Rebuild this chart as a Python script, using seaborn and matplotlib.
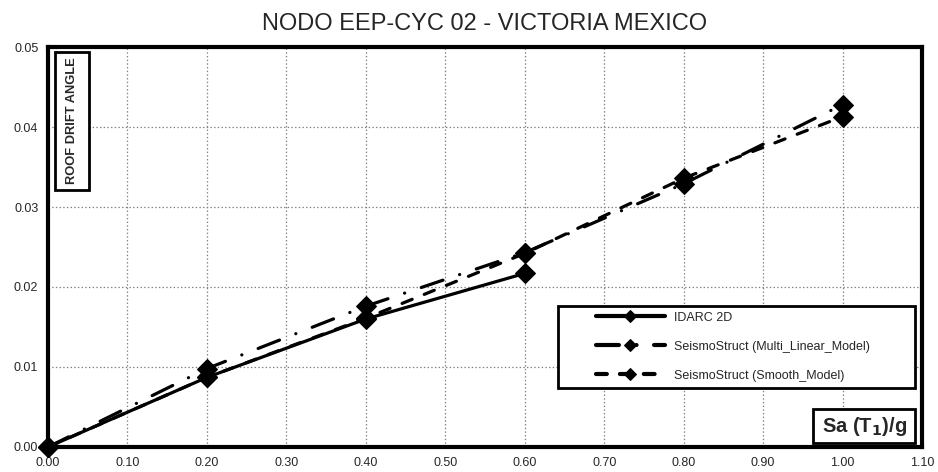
import matplotlib
matplotlib.use("Agg")
import matplotlib.pyplot as plt
from matplotlib.patches import Rectangle
import seaborn as sns
import pandas as pd

# Sa(T1)/g values
sa_idarc = [0.0, 0.2, 0.4, 0.6]
sa_seismo = [0.0, 0.2, 0.4, 0.6, 0.8, 1.0]

# roof drift angle
drift_idarc = [0.0, 0.0087, 0.0160, 0.0217]
drift_multi = [0.0, 0.0098, 0.0176, 0.0243, 0.0329, 0.0428]
drift_smooth = [0.0, 0.0087, 0.0161, 0.0242, 0.0336, 0.0413]

labels = ["IDARC 2D",
          "SeismoStruct (Multi_Linear_Model)",
          "SeismoStruct (Smooth_Model)"]

x_ticks = [0.0, 0.1, 0.2, 0.3, 0.4, 0.5, 0.6, 0.7, 0.8, 0.9, 1.0, 1.1]
y_ticks = [0.0, 0.01, 0.02, 0.03, 0.04, 0.05]

sns.set_style("white")
plt.rcParams['font.family'] = ['Liberation Sans', 'DejaVu Sans']
plt.rcParams['lines.scale_dashes'] = False

fig = plt.figure(figsize=(9.38, 4.72), dpi=100)
ax = fig.add_axes([0.0512, 0.053, 0.9318, 0.8474])

lw = 2.3
styles = ['-', (0, (16.5, 12.6, 0.1, 12.6)), (0, (7.8, 9.4))]
series = [(sa_idarc, drift_idarc), (sa_seismo, drift_multi), (sa_seismo, drift_smooth)]

for (xs, ys), lab, ls in zip(series, labels, styles):
    df = pd.DataFrame({'sa': xs, 'drift': ys})
    sns.lineplot(data=df, x='sa', y='drift', ax=ax, color='black', lw=lw,
                 linestyle=ls, marker='D', markersize=10, markeredgecolor='black',
                 dash_capstyle='round', solid_capstyle='round',
                 label=lab, clip_on=False, zorder=3)

ax.set_xlim(0, 1.1)
ax.set_ylim(0, 0.05)
ax.set_xticks(x_ticks)
ax.set_yticks(y_ticks)
ax.set_xticklabels([f"{v:.2f}" for v in x_ticks], fontsize=9)
ax.set_yticklabels([f"{v:.2f}" for v in y_ticks], fontsize=9)
ax.tick_params(axis='both', direction='out', length=4, width=1, pad=3)
ax.grid(True, color='#7f7f7f', linestyle=':', linewidth=0.9)
for sp in ax.spines.values():
    sp.set_linewidth(3)
    sp.set_color('black')
    sp.set_visible(True)

ax.set_xlabel('')
ax.set_ylabel('')
ax.set_title('NODO EEP-CYC 02 - VICTORIA MEXICO', fontsize=17, pad=12)

# axis labels drawn as boxed text inside the plot area
ax.add_patch(Rectangle((0.008, 0.6425), 0.039, 0.345, transform=ax.transAxes,
                       fc='white', ec='black', lw=2, zorder=5))
ax.text(0.0275, 0.815, 'ROOF DRIFT ANGLE', transform=ax.transAxes, rotation=90,
        ha='center', va='center', fontsize=9.3, fontweight='bold', zorder=6)

ax.add_patch(Rectangle((0.8757, 0.01), 0.1163, 0.085, transform=ax.transAxes,
                       fc='white', ec='black', lw=2, zorder=5))
ax.text(0.934, 0.052, 'Sa (T$_\\mathbf{1}$)/g', transform=ax.transAxes,
        ha='center', va='center', fontsize=14.5, fontweight='bold', zorder=6)

# legend with its own frame
ax.add_patch(Rectangle((0.5835, 0.1475), 0.4085, 0.205, transform=ax.transAxes,
                       fc='white', ec='black', lw=2, zorder=5))
leg = ax.legend(loc='upper left', bbox_to_anchor=(0.627, 0.338),
                borderaxespad=0, fontsize=9, frameon=False,
                handlelength=5.5, labelspacing=1.35,
                handletextpad=0.7, borderpad=0)
leg.set_zorder(6)
for h in leg.legend_handles:
    h.set_markersize(6)
    h.set_linewidth(3)

fig.savefig('out.png', dpi=100)
